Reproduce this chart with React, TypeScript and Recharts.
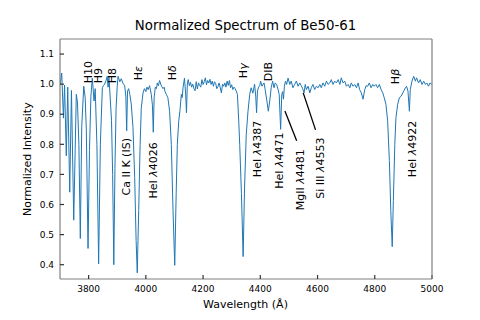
import React from 'react';
import { LineChart, Line, XAxis, YAxis, ReferenceDot, ReferenceLine } from 'recharts';

const FONT = '"DejaVu Sans", sans-serif';

// spectrum, [wavelength (Å), normalized flux]
const balmerSeries: [number, number][] = [
  [3701, 1.0], [3706, 1.037], [3712, 0.887], [3716, 0.997], [3722, 0.762], [3727, 0.99],
  [3734, 0.641], [3740, 0.979], [3748, 0.548], [3757, 0.966], [3761, 0.94], [3766, 0.8],
  [3771, 0.487], [3776, 0.86], [3783, 0.993], [3788, 0.955], [3792, 0.85], [3798, 0.454],
  [3803, 0.78], [3808, 0.96], [3813, 1.02], [3819, 0.944], [3823, 0.985], [3829, 0.8],
  [3835, 0.403], [3841, 0.8], [3848, 0.988], [3852, 0.995], [3856, 1.0], [3861, 1.012],
  [3865, 1.026], [3868, 0.99], [3871, 1.026], [3876, 0.944], [3880, 0.88], [3884, 0.7],
  [3888, 0.4], [3892, 0.72], [3896, 0.92], [3900, 0.993],
];

const caHeps: [number, number][] = [
  [3903, 1.026], [3909, 1.008], [3914, 1.018], [3920, 1.003], [3926, 0.995], [3930, 0.96],
  [3933, 0.845], [3936, 0.977], [3940, 0.985], [3944, 0.966], [3949, 0.934], [3955, 0.856],
  [3961, 0.69], [3966, 0.48], [3970, 0.373], [3975, 0.58], [3980, 0.8], [3984, 0.92],
  [3990, 0.97], [3995, 0.985], [4000, 0.975], [4004, 0.99], [4008, 0.982], [4013, 0.995],
  [4019, 0.966], [4023, 0.93], [4026, 0.84], [4029, 0.955], [4033, 0.99], [4037, 0.985],
  [4040, 1.004], [4044, 0.995], [4048, 1.012], [4052, 1.0], [4055, 0.993], [4060, 0.985],
  [4064, 0.99], [4067, 0.975], [4072, 0.965], [4077, 0.955],
];

const hDelta: [number, number][] = [
  [4083, 0.91], [4089, 0.8], [4095, 0.58], [4101, 0.398], [4106, 0.637], [4110, 0.8],
  [4115, 0.878], [4119, 0.91], [4124, 0.966], [4127, 0.955], [4130, 0.988], [4135, 1.02],
  [4139, 0.97], [4142, 0.905], [4145, 1.0], [4148, 1.015],
];

const blueContinuum: [number, number][] = [
  [4152, 0.995], [4156, 1.006], [4160, 0.99], [4164, 1.0], [4168, 0.985], [4172, 0.978],
  [4176, 1.008], [4180, 0.984], [4184, 1.004], [4188, 0.996], [4192, 0.99], [4196, 1.015],
  [4200, 0.999], [4204, 1.008], [4208, 1.021], [4212, 0.998], [4216, 1.012], [4220, 1.004],
  [4224, 1.016], [4228, 0.999], [4232, 1.01], [4236, 0.993], [4240, 1.008], [4244, 1.002],
  [4248, 0.985], [4252, 0.992], [4256, 1.004], [4260, 0.988], [4264, 0.971], [4268, 1.0],
  [4272, 0.993], [4276, 1.004], [4280, 0.99], [4284, 1.01], [4288, 0.996], [4292, 1.012],
  [4296, 0.988], [4300, 0.998], [4304, 0.982], [4308, 0.99], [4312, 0.985],
];

const hGamma: [number, number][] = [
  [4316, 0.977], [4320, 0.966], [4325, 0.87], [4328, 0.8], [4334, 0.637], [4340, 0.427],
  [4345, 0.658], [4351, 0.835], [4357, 0.91], [4363, 0.966], [4368, 0.988], [4374, 0.97],
  [4380, 1.0], [4384, 0.96], [4387, 0.905], [4390, 0.977], [4394, 0.99], [4398, 0.995],
  [4401, 1.01], [4406, 0.993], [4410, 1.0], [4413, 1.004], [4417, 0.982], [4423, 0.944],
  [4428, 0.91], [4433, 0.944], [4438, 0.988], [4443, 1.01], [4448, 0.988], [4452, 1.004],
  [4457, 0.999], [4462, 0.982], [4466, 0.966], [4471, 0.85], [4475, 0.966], [4478, 0.975],
  [4481, 0.95], [4484, 0.993], [4488, 1.01], [4492, 0.999], [4497, 1.02],
];

const redContinuum: [number, number][] = [
  [4503, 0.999], [4508, 1.01], [4514, 0.988], [4520, 0.999], [4526, 1.01], [4532, 0.993],
  [4538, 1.004], [4543, 0.995], [4548, 0.985], [4553, 0.971], [4557, 0.999], [4561, 0.982],
  [4567, 0.993], [4573, 0.971], [4578, 0.988], [4584, 0.999], [4590, 0.982], [4596, 0.993],
  [4602, 0.988], [4608, 0.999], [4613, 0.988], [4619, 1.004], [4625, 0.993], [4631, 1.01],
  [4637, 0.999], [4643, 1.004], [4648, 1.015], [4654, 0.999], [4660, 1.01], [4666, 1.004],
  [4672, 1.015], [4678, 0.999], [4683, 1.021], [4689, 1.004], [4695, 1.01], [4701, 0.993],
  [4707, 0.999], [4713, 0.988], [4718, 1.004], [4724, 0.993], [4730, 0.999], [4736, 0.988],
  [4742, 1.004], [4747, 0.982], [4753, 0.971], [4759, 0.95], [4765, 0.982], [4770, 0.995],
  [4775, 0.993], [4781, 1.004], [4787, 0.988], [4793, 0.999], [4798, 0.993], [4804, 0.999],
  [4810, 0.988], [4816, 0.999], [4822, 0.982],
];

const hBeta: [number, number][] = [
  [4828, 0.971], [4833, 0.955], [4839, 0.933], [4845, 0.878], [4851, 0.746], [4856, 0.58],
  [4861, 0.46], [4865, 0.614], [4870, 0.8], [4874, 0.889], [4880, 0.933], [4886, 0.955],
  [4892, 0.96], [4898, 0.971], [4903, 0.98], [4907, 0.988], [4911, 0.993], [4916, 0.977],
  [4921, 0.91], [4924, 0.982], [4930, 1.01], [4936, 1.026], [4942, 1.01], [4946, 1.021],
  [4953, 1.004], [4959, 1.015], [4965, 0.999], [4971, 1.01], [4977, 0.999], [4982, 1.004],
  [4988, 0.993], [4993, 1.004], [4999, 0.999],
];

const xTicks = [3800, 4000, 4200, 4400, 4600, 4800, 5000];
const yTicks = [0.4, 0.5, 0.6, 0.7, 0.8, 0.9, 1.0, 1.1];

// line identifications: text, wavelength, flux where the rotated text starts
const upperLabels: [string, number, number][] = [
  ['H10', 3798, 1.003], ['H9', 3833, 1.003], ['H8', 3882, 1.003], ['Hε', 3973, 1.013],
  ['Hδ', 4091, 1.013], ['Hγ', 4340, 1.02], ['DIB', 4427, 1.01], ['Hβ', 4872, 1.0],
];
const lowerLabels: [string, number, number][] = [
  ['Ca II K (IS)', 3932, 0.63], ['HeI λ4026', 4025, 0.62], ['HeI λ4387', 4387, 0.691],
  ['HeI λ4471', 4465, 0.652], ['MgII λ4481', 4539, 0.581], ['Si III λ4553', 4607, 0.619],
  ['HeI λ4922', 4929, 0.691],
];
const leaders = [
  [{ x: 4486, y: 0.911 }, { x: 4527, y: 0.812 }],
  [{ x: 4550, y: 0.971 }, { x: 4593, y: 0.848 }],
];

const data = [
  ...balmerSeries, ...caHeps, ...hDelta, ...blueContinuum,
  ...hGamma, ...redContinuum, ...hBeta,
].map(([wl, flux]) => ({ wl, flux }));

const RotLabel = ({ viewBox, text }: any) => {
  const x = viewBox.x + viewBox.width / 2;
  const y = viewBox.y + viewBox.height / 2;
  const parts = text.split(/([α-ω])/);
  return (
    <text
      x={x}
      y={y}
      transform={`rotate(-90 ${x} ${y})`}
      textAnchor="start"
      dominantBaseline="central"
      fontSize={11}
      fontFamily={FONT}
      fill="#000"
    >
      {parts.map((p: string, i: number) =>
        /[α-ω]/.test(p) ? <tspan key={i} fontStyle="italic">{p}</tspan> : <tspan key={i}>{p}</tspan>
      )}
    </text>
  );
};

const frame = '#808080';
const tickStyle = { fontSize: 9, fontFamily: FONT, fill: '#000' };

export default function App() {
  return (
    <div style={{ position: 'relative', width: 472, height: 312 }}>
      <LineChart width={472} height={312} data={data} margin={{ top: 25, right: 38, bottom: 0, left: 0 }}>
        <XAxis
          dataKey="wl"
          type="number"
          domain={[3700, 5000]}
          ticks={xTicks}
          interval={0}
          allowDataOverflow
          height={41}
          tickSize={-4}
          tickMargin={11}
          stroke={frame}
          strokeWidth={1.2}
          tickLine={{ stroke: '#333' }}
          tick={tickStyle}
        />
        <XAxis
          xAxisId="top"
          orientation="top"
          type="number"
          domain={[3700, 5000]}
          ticks={xTicks}
          interval={0}
          allowDataOverflow
          height={6}
          tickSize={-4}
          tick={false}
          stroke={frame}
          strokeWidth={1.2}
          tickLine={{ stroke: '#333' }}
        />
        <YAxis
          type="number"
          domain={[0.3525, 1.15]}
          ticks={yTicks}
          interval={0}
          allowDataOverflow
          width={52}
          tickSize={-4}
          tickMargin={10}
          stroke={frame}
          strokeWidth={1.2}
          tickLine={{ stroke: '#333' }}
          tick={tickStyle}
          tickFormatter={(v: number) => v.toFixed(1)}
        />
        <YAxis
          yAxisId="right"
          orientation="right"
          type="number"
          domain={[0.3525, 1.15]}
          ticks={yTicks}
          interval={0}
          allowDataOverflow
          width={10}
          tickSize={-4}
          tick={false}
          stroke={frame}
          strokeWidth={1.2}
          tickLine={{ stroke: '#333' }}
        />
        <Line
          dataKey="flux"
          type="linear"
          stroke="#1f77b4"
          strokeWidth={1}
          dot={false}
          isAnimationActive={false}
        />
        {leaders.map((seg, i) => (
          <ReferenceLine key={`l${i}`} segment={seg} stroke="#000" strokeWidth={1.3} />
        ))}
        {[...upperLabels, ...lowerLabels].map(([text, wl, f]) => (
          <ReferenceDot
            key={text}
            x={wl}
            y={f}
            r={0}
            fill="none"
            stroke="none"
            label={<RotLabel text={text} />}
          />
        ))}
      </LineChart>
      <svg
        width={480}
        height={320}
        style={{ position: 'absolute', left: -8, top: -8, pointerEvents: 'none' }}
      >
        <text x={245.5} y={30.4} textAnchor="middle" fontSize={13.3} fontFamily={FONT}>
          Normalized Spectrum of Be50-61
        </text>
        <text x={245.5} y={308} textAnchor="middle" fontSize={11} fontFamily={FONT}>
          Wavelength (Å)
        </text>
        <text
          x={31.3}
          y={159.2}
          transform="rotate(-90 31.3 159.2)"
          textAnchor="middle"
          fontSize={11}
          fontFamily={FONT}
        >
          Normalized Intensity
        </text>
      </svg>
    </div>
  );
}
